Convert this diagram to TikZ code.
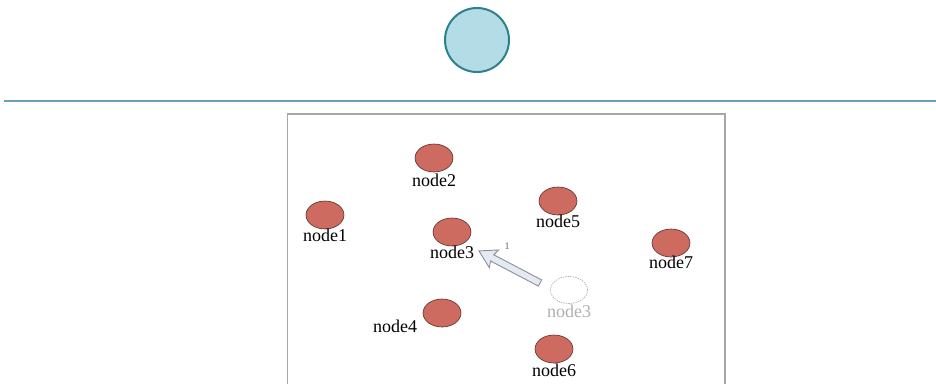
\documentclass[tikz,border=0pt]{standalone}
\usepackage{fontspec}
\setmainfont{Liberation Serif}
\usetikzlibrary{shapes.geometric}
\definecolor{topfill}{HTML}{B3DCE6}
\definecolor{topdraw}{HTML}{2E808E}
\definecolor{rulecol}{HTML}{6A9FB5}
\definecolor{nodefill}{HTML}{CD6B61}
\definecolor{nodedraw}{HTML}{5A2E2A}
\definecolor{ghostcol}{HTML}{B0B0B0}
\definecolor{arrowfill}{HTML}{E4E9F2}
\definecolor{arrowdraw}{HTML}{8A8F98}
\tikzset{
  rednode/.style={ellipse, draw=nodedraw, line width=0.6pt, fill=nodefill, minimum width=38pt, minimum height=28pt, inner sep=0pt},
  ghostnode/.style={ellipse, draw=ghostcol, dashed, dash pattern=on 1.5pt off 1pt, line width=0.7pt, minimum width=37pt, minimum height=27pt, inner sep=0pt},
  nlabel/.style={anchor=base, font=\fontsize{18}{18}\selectfont, inner sep=0pt},
  movearrow/.style={draw=arrowdraw, fill=arrowfill, line width=0.9pt, line join=miter},
}
\begin{document}
\begin{tikzpicture}[x=1pt,y=-1pt]
\useasboundingbox (0,0) rectangle (936,383);
% top circle and rule
\node[circle, draw=topdraw, line width=2pt, fill=topfill, minimum size=64pt, inner sep=0pt] (top) at (477,40) {};
\coordinate (ruleL) at (4,101);
\coordinate (ruleR) at (936,101);
\draw[rulecol, line width=1.4pt] (ruleL) -- (ruleR);
% frame
\coordinate (fTL) at (287.5,114);
\coordinate (fTR) at (725,114);
\coordinate (fBL) at (287.5,384);
\coordinate (fBR) at (725,384);
\draw[gray!70, line width=1.2pt] (fBL) -- (fTL) -- (fTR) -- (fBR);
% nodes
\node[rednode] (n1) at (325,215) {};
\node[nlabel] (l1) at (325,241) {node1};
\node[rednode] (n2) at (434,158) {};
\node[nlabel] (l2) at (434,186) {node2};
\node[rednode] (n3) at (452,232) {};
\node[nlabel] (l3) at (452,258) {node3};
\node[rednode] (n4) at (442,313) {};
\node[nlabel] (l4) at (395,332) {node4};
\node[rednode] (n5) at (558,201) {};
\node[nlabel] (l5) at (558,227) {node5};
\node[rednode] (n6) at (554,349) {};
\node[nlabel] (l6) at (554,376) {node6};
\node[rednode] (n7) at (671,243) {};
\node[nlabel] (l7) at (671,268) {node7};
% ghost node
\node[ghostnode] (g3) at (569,290) {};
\node[nlabel, text=ghostcol] (lg3) at (569,317) {node3};
% move arrow (hollow block arrow from tail to tip)
\coordinate (tail) at (540,283);
\begin{scope}[shift={(tail)}, rotate=152.3]
  \draw[movearrow] (0,3.5) -- (54,3.5) -- (52,10) -- (69,0) -- (52,-10) -- (54,-3.5) -- (0,-3.5) -- cycle;
\end{scope}
\node[font=\fontsize{10}{10}\selectfont, text=gray!80!black, inner sep=0pt] (one) at (507,246) {1};
\end{tikzpicture}
\end{document}
